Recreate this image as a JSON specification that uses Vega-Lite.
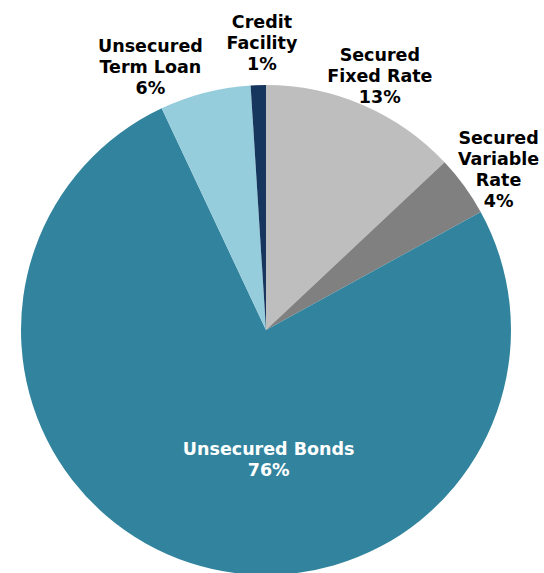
{
  "$schema": "https://vega.github.io/schema/vega-lite/v6.json",
  "autosize": {"type": "none"},
  "width": 532,
  "height": 400,
  "padding": {"left": 0, "top": 130, "right": 12, "bottom": 43},
  "background": "white",
  "view": {"stroke": null},
  "data": {
    "values": [
      {"name": "Secured Fixed Rate", "seq": 1, "value": 13, "label": ["Secured", "Fixed Rate", "13%"]},
      {"name": "Secured Variable Rate", "seq": 2, "value": 4, "label": ["Secured", "Variable", "Rate", "4%"]},
      {"name": "Unsecured Bonds", "seq": 3, "value": 76, "label": ["Unsecured Bonds", "76%"]},
      {"name": "Unsecured Term Loan", "seq": 4, "value": 6, "label": ["Unsecured", "Term Loan", "6%"]},
      {"name": "Credit Facility", "seq": 5, "value": 1, "label": ["Credit", "Facility", "1%"]}
    ]
  },
  "encoding": {
    "theta": {"field": "value", "type": "quantitative", "stack": true},
    "order": {"field": "seq", "type": "quantitative"}
  },
  "layer": [
    {
      "mark": {"type": "arc", "outerRadius": 245},
      "encoding": {
        "color": {
          "field": "name",
          "type": "nominal",
          "scale": {
            "domain": ["Secured Fixed Rate", "Secured Variable Rate", "Unsecured Bonds", "Unsecured Term Loan", "Credit Facility"],
            "range": ["#bebebe", "#808080", "#32849e", "#96cddd", "#17365d"]
          },
          "legend": null
        }
      }
    },
    {
      "mark": {"type": "text", "radius": 279, "dx": 3, "dy": -18, "font": "DejaVu Sans", "fontWeight": "bold", "fontSize": 17.5, "lineHeight": 21, "baseline": "middle", "align": "center", "color": "black"},
      "encoding": {"text": {"condition": {"test": "datum.name === 'Secured Fixed Rate'", "field": "label"}, "value": ""}}
    },
    {
      "mark": {"type": "text", "radius": 285, "dx": 2, "dy": -23, "font": "DejaVu Sans", "fontWeight": "bold", "fontSize": 17.5, "lineHeight": 21, "baseline": "middle", "align": "center", "color": "black"},
      "encoding": {"text": {"condition": {"test": "datum.name === 'Secured Variable Rate'", "field": "label"}, "value": ""}}
    },
    {
      "mark": {"type": "text", "radius": 137, "dx": 45, "dy": -10, "font": "DejaVu Sans", "fontWeight": "bold", "fontSize": 17.5, "lineHeight": 21, "baseline": "middle", "align": "center", "color": "white"},
      "encoding": {"text": {"condition": {"test": "datum.name === 'Unsecured Bonds'", "field": "label"}, "value": ""}}
    },
    {
      "mark": {"type": "text", "radius": 280, "dx": -46, "dy": -12, "font": "DejaVu Sans", "fontWeight": "bold", "fontSize": 17.5, "lineHeight": 21, "baseline": "middle", "align": "center", "color": "black"},
      "encoding": {"text": {"condition": {"test": "datum.name === 'Unsecured Term Loan'", "field": "label"}, "value": ""}}
    },
    {
      "mark": {"type": "text", "radius": 288, "dx": 5, "dy": -19, "font": "DejaVu Sans", "fontWeight": "bold", "fontSize": 17.5, "lineHeight": 21, "baseline": "middle", "align": "center", "color": "black"},
      "encoding": {"text": {"condition": {"test": "datum.name === 'Credit Facility'", "field": "label"}, "value": ""}}
    }
  ]
}
